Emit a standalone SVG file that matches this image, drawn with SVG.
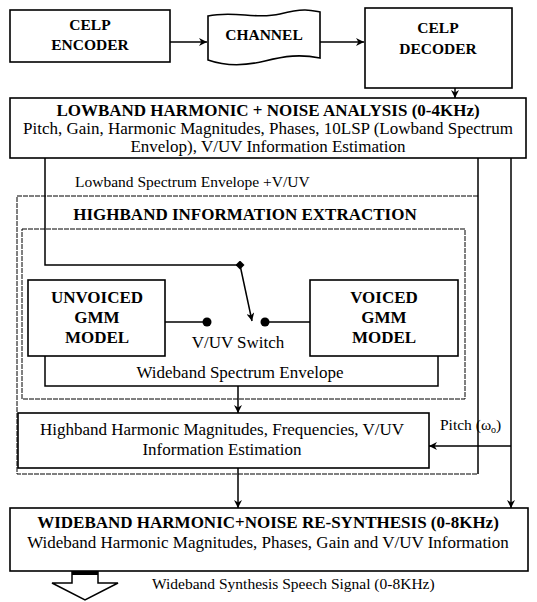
<svg xmlns="http://www.w3.org/2000/svg" width="537" height="602" viewBox="0 0 537 602">
<defs>
<marker id="ah" viewBox="0 0 10 10" refX="10" refY="5" markerWidth="8" markerHeight="8" markerUnits="userSpaceOnUse" orient="auto">
<path d="M0,0 L10,5 L0,10 L3,5 Z" fill="#000"/>
</marker>
<marker id="dia" viewBox="0 0 10 10" refX="5" refY="5" markerWidth="9" markerHeight="9" markerUnits="userSpaceOnUse" orient="auto">
<path d="M5,0 L10,5 L5,10 L0,5 Z" fill="#000"/>
</marker>
</defs>
<style>
.box{fill:#fff;stroke:#000;stroke-width:1.6}
.dot{fill:none;stroke:#000;stroke-width:1;stroke-dasharray:5 1}
.ln{fill:none;stroke:#000;stroke-width:1.5}
.b{font-family:"Liberation Serif","Times New Roman",serif;font-weight:bold;font-size:17px;text-anchor:middle;fill:#000}
.b2{font-family:"Liberation Serif","Times New Roman",serif;font-weight:bold;font-size:15.5px;text-anchor:middle;fill:#000}
.t{font-family:"Liberation Serif","Times New Roman",serif;font-size:17px;text-anchor:middle;fill:#000}
.tl{font-family:"Liberation Serif","Times New Roman",serif;font-size:15.5px;fill:#000}
</style>
<rect width="537" height="602" fill="#fff"/>

<g id="highband_outer">
<path class="dot" d="M478,196 H17 V474 H478"/>
<text class="b" x="245" y="220">HIGHBAND INFORMATION EXTRACTION</text>
</g>
<g id="highband_inner">
<rect class="dot" x="22" y="229" width="443" height="170"/>
</g>

<g id="celp_encoder">
<rect class="box" x="10" y="10" width="160" height="52"/>
<text class="b2" x="90" y="30">CELP</text>
<text class="b2" x="90" y="50">ENCODER</text>
</g>
<g id="channel">
<path class="box" d="M208,16 C235,10 255,20 280,14 S310,10 320,12 L320,58 C300,54 285,56 265,61 S225,66 208,60 Z"/>
<text class="b2" x="264" y="40">CHANNEL</text>
</g>
<g id="celp_decoder">
<rect class="box" x="365" y="8" width="147" height="80"/>
<text class="b2" x="438" y="33">CELP</text>
<text class="b2" x="438" y="54">DECODER</text>
</g>
<g id="lowband">
<rect class="box" x="10" y="98" width="516" height="60"/>
<text class="b" x="268" y="116">LOWBAND HARMONIC + NOISE ANALYSIS (0-4KHz)</text>
<text class="t" x="268" y="134">Pitch, Gain, Harmonic Magnitudes, Phases, 10LSP (Lowband Spectrum</text>
<text class="t" x="268" y="152">Envelop), V/UV Information Estimation</text>
</g>
<g id="unvoiced_gmm">
<rect class="box" x="28" y="280" width="137" height="76"/>
<text class="b" x="97" y="303">UNVOICED</text>
<text class="b" x="97" y="323">GMM</text>
<text class="b" x="97" y="343">MODEL</text>
</g>
<g id="voiced_gmm">
<rect class="box" x="310" y="280" width="148" height="76"/>
<text class="b" x="384" y="303">VOICED</text>
<text class="b" x="384" y="323">GMM</text>
<text class="b" x="384" y="343">MODEL</text>
</g>
<g id="vuv_switch">
<circle cx="207" cy="322" r="4.5" fill="#000"/>
<circle cx="265" cy="322" r="4.5" fill="#000"/>
<text class="t" x="238" y="348">V/UV Switch</text>
</g>
<g id="highband_harmonic">
<rect class="box" x="18" y="413" width="411" height="55"/>
<text class="t" x="222" y="435">Highband Harmonic Magnitudes, Frequencies, V/UV</text>
<text class="t" x="222" y="455">Information Estimation</text>
</g>
<g id="wideband">
<rect class="box" x="10" y="508" width="518" height="63"/>
<text class="b" x="268" y="528">WIDEBAND HARMONIC+NOISE RE-SYNTHESIS (0-8KHz)</text>
<text class="t" x="268" y="548">Wideband Harmonic Magnitudes, Phases, Gain and V/UV Information</text>
</g>
<g id="output_arrow">
<path class="ln" d="M72,571 V583 H52 L85,600 L118,583 H98 V571"/>
<rect x="72" y="571" width="26" height="4" fill="#000"/>
<text class="tl" x="152" y="589">Wideband Synthesis Speech Signal (0-8KHz)</text>
</g>

<g id="connectors">
<line class="ln" x1="170" y1="42" x2="207" y2="42" marker-end="url(#ah)"/>
<line class="ln" x1="320" y1="42" x2="364" y2="42" marker-end="url(#ah)"/>
<line class="ln" x1="455" y1="88" x2="455" y2="98" marker-end="url(#ah)"/>
<polyline class="ln" points="45,158 45,265 240,265" marker-end="url(#dia)"/>
<text class="tl" x="75" y="187">Lowband Spectrum Envelope +V/UV</text>
<line class="ln" x1="478" y1="158" x2="478" y2="474"/>
<line class="ln" x1="240" y1="265" x2="252" y2="321" marker-end="url(#ah)"/>
<line class="ln" x1="165" y1="322" x2="203" y2="322"/>
<line class="ln" x1="269" y1="322" x2="310" y2="322"/>
<polyline class="ln" points="45,356 45,386 438,386 438,356"/>
<text class="t" x="240" y="378">Wideband Spectrum Envelope</text>
<line class="ln" x1="238" y1="386" x2="238" y2="413" marker-end="url(#ah)"/>
<line class="ln" x1="238" y1="468" x2="238" y2="508" marker-end="url(#ah)"/>
<line class="ln" x1="511" y1="158" x2="511" y2="508" marker-end="url(#ah)"/>
<line class="ln" x1="511" y1="446" x2="429" y2="446" marker-end="url(#ah)"/>
<text class="tl" x="440" y="430">Pitch (ω<tspan font-size="10" dy="3">o</tspan><tspan dy="-3">)</tspan></text>
</g>
</svg>
